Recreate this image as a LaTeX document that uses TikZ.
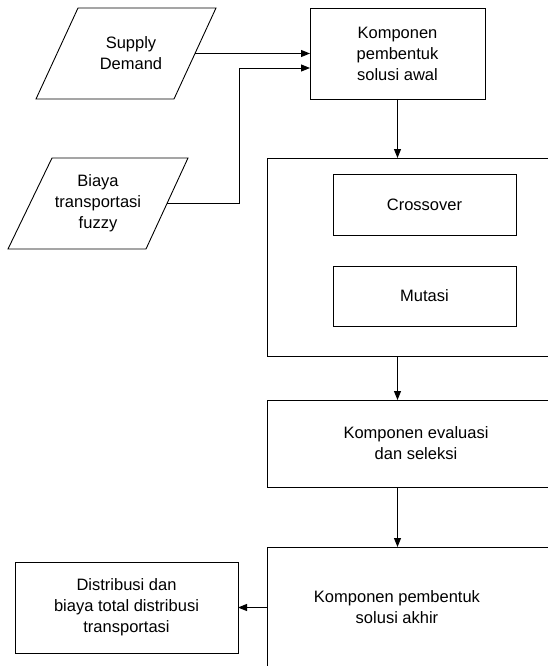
\documentclass[tikz,border=0pt]{standalone}
\usepackage{fontspec}
\setmainfont{Liberation Sans}
\usetikzlibrary{arrows.meta}

\begin{document}
\begin{tikzpicture}[x=1pt, y=-1pt,
		box/.style={draw, rectangle, inner sep=0pt, outer sep=0pt, line width=0.9pt},
		line/.style={line width=0.9pt, line join=miter},
		txt/.style={align=center},
		arr/.style={-{Triangle[length=9pt, width=7pt]}, line width=0.9pt}]
		\useasboundingbox (0,0) rectangle (548,666);
		\clip (0,0) rectangle (548,666);
		\fontsize{16.5}{21}\selectfont
		
		% input data (parallelograms)
		\draw[line] (36, 99) -- (78, 8) -- (216, 8) -- (174, 99) -- cycle;
		\node[txt] (sd) at (131, 53) {Supply\\Demand};
		\coordinate (sdout) at (195, 53.5);
		\draw[line] (8, 249) -- (52, 158) -- (188, 158) -- (146, 249) -- cycle;
		\node[txt] (bt) at (98, 203.5) {Biaya\\transportasi\\fuzzy};
		\coordinate (btout) at (167, 203.5);
		
		\node[box, minimum width=175, minimum height=91, align=center] (awal) at (397.5, 53.5) {Komponen\\pembentuk\\solusi awal};
		
		\node[box, minimum width=333, minimum height=198] (gen) at (433.5, 257) {};
		\node[box, minimum width=183, minimum height=61] (cross) at (424.5, 204.5) {Crossover};
		\node[box, minimum width=183, minimum height=60] (mut) at (424.5, 296) {Mutasi};
		
		\node[box, minimum width=333, minimum height=87] (eval) at (433.5, 443.5) {};
		\node[txt] (evaltxt) at (416, 443) {Komponen evaluasi\\dan seleksi};
		
		\node[box, minimum width=333, minimum height=153] (akhir) at (433.5, 623.5) {};
		\node[txt] (akhirtxt) at (397, 607) {Komponen pembentuk\\solusi akhir};
		
		\node[box, minimum width=223, minimum height=91, align=center] (distr) at (126.5, 607.5) {Distribusi dan\\biaya total distribusi\\transportasi};
		
		\coordinate (bend) at (239, 68);
		
		\draw[arr] (sdout) -- (sdout -| awal.west);
		\draw[arr] (btout) -| (bend) -- (bend -| awal.west);
		\draw[arr] (awal.south) -- (awal.south |- gen.north);
		\draw[arr] (awal.south |- gen.south) -- (awal.south |- eval.north);
		\draw[arr] (awal.south |- eval.south) -- (awal.south |- akhir.north);
		\draw[arr] (distr.east -| akhir.west) -- (distr.east);
	\end{tikzpicture}
\end{document}
